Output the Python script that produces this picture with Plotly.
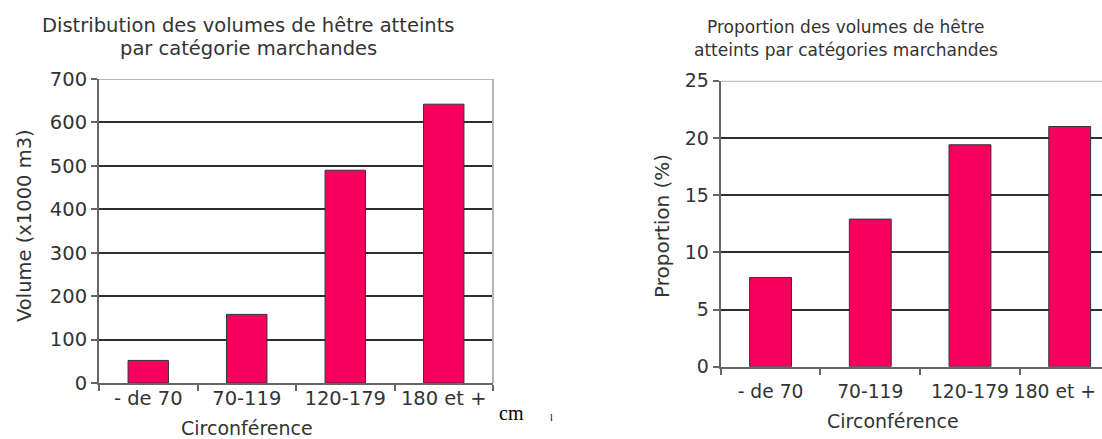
import plotly.graph_objects as go

# Catégories de circonférence (cm)
categories = ["- de 70", "70-119", "120-179", "180 et +"]
# Volumes de hêtre atteints (x1000 m3)
volumes = [52, 158, 490, 642]
# Proportion des volumes atteints (%)
proportions = [7.8, 12.9, 19.4, 21.0]

W, H = 1102, 439
BAR = "#f5005f"
TXT = "#333333"
FONT = "DejaVu Sans"


def px(x):
    return x / W


def py(y):
    return 1 - y / H


fig = go.Figure()
fig.add_trace(go.Bar(x=categories, y=volumes, xaxis="x", yaxis="y", width=0.41,
                     marker=dict(color=BAR, line=dict(color="#333333", width=1))))
fig.add_trace(go.Bar(x=categories, y=proportions, xaxis="x2", yaxis="y2", width=0.42,
                     marker=dict(color=BAR, line=dict(color="#333333", width=1))))

xcommon = dict(type="category", showgrid=False, showline=True, linecolor="#666666",
               linewidth=2, ticks="outside", tickson="boundaries", ticklen=6,
               tickcolor="#666666", tickwidth=1.5, tickangle=0, fixedrange=True)
ycommon = dict(showgrid=True, gridcolor="#2e2e2e", gridwidth=1.5, showline=True,
               linecolor="#666666", linewidth=2, ticks="outside", ticklen=6,
               tickcolor="#666666", tickwidth=1.5, zeroline=False, fixedrange=True)

# Le dernier libellé du graphique de droite est décalé vers la gauche pour rester visible
right_ticktext = categories[:-1] + [categories[-1] + "\u00a0" * 5]

fig.update_layout(
    width=W, height=H,
    margin=dict(l=0, r=0, t=0, b=0, autoexpand=False),
    paper_bgcolor="white", plot_bgcolor="white",
    showlegend=False,
    font=dict(family=FONT, color=TXT, size=19),
    xaxis=dict(domain=[px(99), px(493)], range=[-0.5, 3.5], anchor="y",
               ticklabelstandoff=-3, tickfont=dict(size=19.5, color=TXT), **xcommon),
    yaxis=dict(domain=[py(383), py(79)], range=[0, 700], dtick=100, anchor="x",
               tickfont=dict(size=19.5, color=TXT), **ycommon),
    xaxis2=dict(domain=[px(720.7), 1.0], range=[-0.5, 3.324], anchor="y2",
                tickmode="array", tickvals=categories, ticktext=right_ticktext,
                ticklabelstandoff=7, tickfont=dict(size=18.7, color=TXT), **xcommon),
    yaxis2=dict(domain=[py(366.7), py(80.7)], range=[0, 25], dtick=5, anchor="x2",
                tickfont=dict(size=19, color=TXT), **ycommon),
)

# Bordures claires (haut et droite) des zones de tracé
fig.add_shape(type="line", xref="x domain", yref="y", x0=0, x1=1, y0=700, y1=700,
              line=dict(color="#b4b4b4", width=2))
fig.add_shape(type="line", xref="x domain", yref="y", x0=1, x1=1, y0=0, y1=700,
              line=dict(color="#b4b4b4", width=2))
fig.add_shape(type="line", xref="x2 domain", yref="y2", x0=0, x1=1, y0=25, y1=25,
              line=dict(color="#b4b4b4", width=2))


def label(text, x, y, size=19, angle=0, family=FONT, color=TXT):
    fig.add_annotation(text=text, x=px(x), y=py(y), xref="paper", yref="paper",
                       showarrow=False, textangle=angle, xanchor="center", yanchor="middle",
                       font=dict(family=family, size=size, color=color))


# Titres
label("Distribution des volumes de hêtre atteints", 248, 25, size=19.5)
label("par catégorie marchandes", 248, 48, size=19.5)
label("Proportion des volumes de hêtre", 846, 27, size=17)
label("atteints par catégories marchandes", 846, 50, size=17)

# Titres des axes
label("Volume (x1000 m3)", 24, 226, size=19.5, angle=-90)
label("Circonférence", 247, 428)
label("Proportion (%)", 662, 226, size=20, angle=-90)
label("Circonférence", 893, 421)

# Unité
label("cm", 511, 413, size=20, family="Liberation Serif", color="#000000")
label("l", 551, 417, size=10, family="Liberation Serif", color="#000000")

fig.write_html("out.html")
